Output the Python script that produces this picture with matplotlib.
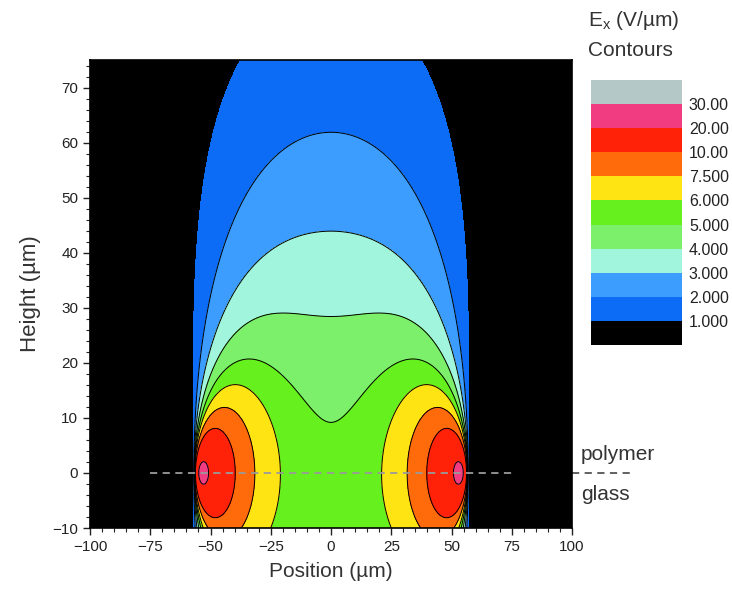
import numpy as np
import matplotlib
matplotlib.use("Agg")
import matplotlib.pyplot as plt

plt.rcParams["font.family"] = ["Liberation Sans", "DejaVu Sans"]
plt.rcParams["mathtext.fontset"] = "custom"
plt.rcParams["mathtext.rm"] = "Liberation Sans"

# contour levels of Ex (V/um) and the band colours (below 1 ... above 30)
LEVELS = [1.0, 2.0, 3.0, 4.0, 5.0, 6.0, 7.5, 10.0, 20.0, 30.0]
LEVEL_LABELS = ["1.000", "2.000", "3.000", "4.000", "5.000",
                "6.000", "7.500", "10.00", "20.00", "30.00"]
BAND_COLORS = ["#000000", "#0d6cf5", "#3c9dff", "#a0f5dc", "#7cf06a",
               "#66f01e", "#ffe414", "#ff6a0a", "#ff2208", "#f23c82",
               "#b4c8c8"]

# electrode model: line charges at the inner electrode edges, grounded top plane
EDGE = 57.0      # um, electrode edge position (+/-)
CHARGE = 156.0   # V, line-charge strength
TOP = 120.0      # um, height of grounded boundary
CORE = 3.6       # um, core radius of each line charge

XLIM = (-100, 100)
YLIM = (-10, 75)
INTERFACE_Y = 0.0
INNER_DASH = (-75, 75)
OUTER_DASH = (100, 124)


def line_charge_ex(x, y, x0, y0, q):
    dx = x - x0
    dy = y - y0
    return q * dx / (dx ** 2 + dy ** 2 + CORE ** 2)


xs = np.linspace(XLIM[0], XLIM[1], 801)
ys = np.linspace(YLIM[0], YLIM[1], 341)
X, Y = np.meshgrid(xs, ys)
ex = (line_charge_ex(X, Y, -EDGE, 0, CHARGE)
      + line_charge_ex(X, Y, EDGE, 0, -CHARGE)
      + line_charge_ex(X, Y, -EDGE, 2 * TOP, -CHARGE)
      + line_charge_ex(X, Y, EDGE, 2 * TOP, CHARGE))

W, H = 732, 590
fig = plt.figure(figsize=(W / 100, H / 100), dpi=100)
ax = fig.add_axes([90 / W, 1 - 528 / H, 482 / W, 468 / H])

bounds = [-1e9] + LEVELS + [1e9]
ax.contourf(X, Y, ex, levels=bounds, colors=BAND_COLORS)
ax.contour(X, Y, ex, levels=LEVELS[1:], colors="k", linewidths=0.7)

ax.plot(INNER_DASH, [INTERFACE_Y] * 2, ls=(0, (4, 3)), color="#9a9a9a", lw=1.3)
ax.plot(OUTER_DASH, [INTERFACE_Y] * 2, ls=(0, (4, 3)), color="#555555", lw=1.3,
        clip_on=False)

ax.set_xlim(*XLIM)
ax.set_ylim(*YLIM)
ax.set_xticks(np.arange(-100, 101, 25))
ax.set_xticks(np.arange(-100, 101, 5), minor=True)
ax.set_yticks(np.arange(-10, 71, 10))
ax.set_yticks(np.arange(-10, 76, 2), minor=True)
ax.tick_params(which="major", length=5, width=1, labelsize=11, colors="#222222")
ax.tick_params(which="minor", length=3, width=0.8, colors="#222222")
for sp in ax.spines.values():
    sp.set_linewidth(1.2)
ax.set_xlabel("Position (µm)", fontsize=15, color="#333333", labelpad=6)
ax.set_ylabel("Height (µm)", fontsize=16, color="#333333", labelpad=8)

y_frac = (INTERFACE_Y - YLIM[0]) / (YLIM[1] - YLIM[0])
ax.text(1.018, y_frac + 0.04, "polymer", transform=ax.transAxes, fontsize=15,
        color="#333333", va="center")
ax.text(1.018, y_frac - 0.045, "glass", transform=ax.transAxes, fontsize=15,
        color="#333333", va="center")

# colour key with equal-height bands
cax = fig.add_axes([591 / W, 1 - 345 / H, 91 / W, 265 / H])
for i, c in enumerate(BAND_COLORS):
    cax.bar(0.5, 1, bottom=i, width=1, color=c, edgecolor="none")
cax.set_xlim(0, 1)
cax.set_ylim(0, len(BAND_COLORS))
cax.set_xticks([])
cax.yaxis.tick_right()
cax.set_yticks(np.arange(1, len(LEVELS) + 1))
cax.set_yticklabels(LEVEL_LABELS)
cax.tick_params(axis="y", length=0, pad=5, labelsize=11.5, colors="#222222")
for sp in cax.spines.values():
    sp.set_visible(False)

fig.text(588 / W, 1 - 20 / H, r"E$_\mathregular{x}$ (V/µm)", fontsize=15,
         color="#333333", va="center")
fig.text(588 / W, 1 - 50 / H, "Contours", fontsize=15, color="#333333",
         va="center")

fig.savefig("out.png", dpi=100)
